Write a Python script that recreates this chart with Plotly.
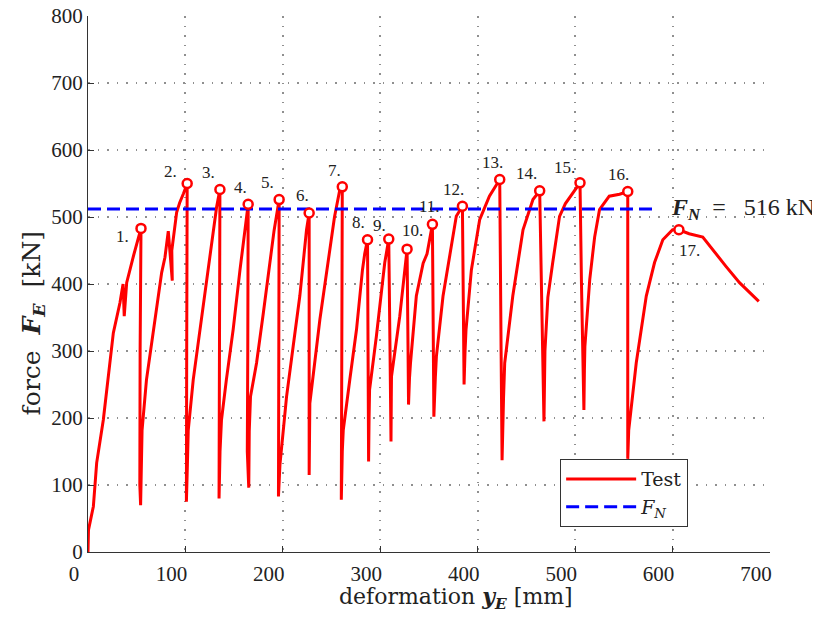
import plotly.graph_objects as go

# measured load-deformation curve (continuous test record)
test_x = [0, 0.5, 5.5, 8.9, 15.7, 22.6, 26, 32.8, 36, 37.2, 39.7, 46.5, 54.4,
          53.5, 53.2, 54, 55, 55.5, 60, 67, 75.6, 79, 82.4, 86.5, 86, 91, 94, 98, 101.8,
          101.3, 101, 102, 102.9, 108, 115, 121.7, 128.5, 132, 135.4,
          135, 134.5, 135.5, 137, 142, 149, 156, 160, 164.4,
          164, 163.5, 165, 165.5, 166.8, 173, 180, 186.7, 191, 196.2,
          196, 195.5, 197, 198.6, 203.8, 210.6, 217.4, 224.3, 227,
          227, 227, 227.7, 238, 248, 253, 258.5, 261,
          260.5, 260, 261, 262, 268.7, 275.6, 281.7, 284, 286.9,
          287.5, 288, 288.5, 289, 296, 304.6, 308.7,
          310, 311, 311.3, 311.5, 320, 325, 327.5,
          328.5, 329, 330, 331, 337, 344, 348, 353.5,
          354.5, 355, 356.5, 357.6, 364.4, 371, 378, 384.3,
          385.5, 386, 387, 388, 393.5, 402, 412, 418, 422.6,
          424, 425, 426.5, 427.7, 436, 446.5, 456.7, 463.6,
          466, 468, 469, 472, 477, 484, 490, 497.8, 505,
          506.5, 509, 509.5, 510, 515, 520, 525, 535, 545.6, 554,
          554, 554, 555, 562.7, 573, 581.5, 590, 600, 606.5,
          617, 631, 641, 655, 668.7, 688.5]
test_y = [0, 33, 68, 133, 197, 282, 327, 372, 400, 352, 402, 441, 483,
          300, 100, 70, 150, 182, 257, 332, 417, 440, 479, 405, 450, 507, 521, 535, 550,
          300, 75, 130, 182, 257, 332, 406, 481, 515, 541,
          300, 80, 150, 197, 257, 332, 421, 470, 519,
          300, 150, 96, 180, 232, 282, 357, 432, 480, 526,
          300, 83, 130, 157, 232, 307, 382, 481, 506,
          300, 115, 222, 347, 447, 500, 541, 545,
          300, 78, 150, 182, 257, 332, 421, 445, 466,
          300, 135, 200, 242, 322, 432, 467,
          300, 165, 230, 262, 352, 421, 452,
          300, 220, 260, 282, 382, 431, 445, 489,
          300, 202, 260, 292, 382, 441, 501, 516,
          350, 250, 300, 332, 421, 496, 531, 545, 556,
          300, 137, 230, 282, 382, 481, 526, 539,
          350, 195, 300, 380, 432, 501, 520, 536, 551,
          400, 212, 270, 307, 407, 470, 511, 531, 534, 538,
          300, 139, 182, 282, 382, 432, 466, 481, 481,
          475, 470, 451, 426, 402, 374]

# peak loads of the 17 load cycles
peak_x = [54.4, 101.8, 135.4, 164.4, 196.2, 227, 261, 286.9, 308.7, 327.5,
          353.5, 384.3, 422.6, 463.6, 505, 554, 606.5]
peak_y = [483, 550, 541, 519, 526, 506, 545, 466, 467, 452,
          489, 516, 556, 539, 551, 538, 481]
peak_labels = [f"{i}." for i in range(1, 18)]

fn_x = [0, 585]
fn_y = [512, 512]
fn_text = "516 kN"

# label offsets in px (right, up)
label_shift = [(-19, -8), (-17, 12), (-11, 17), (-8, 17), (-12, 17), (-7, 17),
               (-8, 16), (-9, 17), (-9, 14), (5, 19), (-3, 18), (-9, 17),
               (-7, 17), (-13, 17), (-16, 15), (-9, 17), (11, -21)]

serif = "Liberation Serif"
wide_serif = "DejaVu Serif"
ink = "#222222"

fig = go.Figure()
fig.add_trace(go.Scatter(x=test_x, y=test_y, mode="lines", name="Test",
                         line=dict(color="rgb(255,0,0)", width=3)))
fig.add_trace(go.Scatter(x=fn_x, y=fn_y, mode="lines", name="<i>F</i><sub><i>N</i></sub>",
                         line=dict(color="rgb(0,0,255)", width=3, dash="13px,6px")))
fig.add_trace(go.Scatter(x=peak_x, y=peak_y, mode="markers", showlegend=False,
                         marker=dict(symbol="circle", size=9, color="white",
                                     line=dict(color="rgb(255,0,0)", width=2.5))))

for x, y, t, (dx, dy) in zip(peak_x, peak_y, peak_labels, label_shift):
    fig.add_annotation(x=x, y=y, text=t, showarrow=False, xshift=dx, yshift=dy,
                       font=dict(family=serif, size=17, color=ink))

fig.add_annotation(x=596, y=fn_y[0], xanchor="left", yanchor="middle", showarrow=False,
                   text="<b><i>F</i></b><sub><b><i>N</i></b></sub> &nbsp;= &nbsp;&nbsp;" + fn_text,
                   font=dict(family=serif, size=24, color=ink))

# axis titles
fig.add_annotation(xref="paper", yref="paper", x=0.54, y=-0.086, showarrow=False,
                   yanchor="middle",
                   text="deformation <b><i>y</i></b><sub><b><i>E</i></b></sub> [mm]",
                   font=dict(family=wide_serif, size=22, color=ink))
fig.add_annotation(xref="paper", yref="paper", x=-0.081, y=0.426, showarrow=False,
                   textangle=-90, xanchor="center",
                   text="force &nbsp;<b><i>F</i></b><sub><b><i>E</i></b></sub> &nbsp;[kN]",
                   font=dict(family=wide_serif, size=25, color=ink))

axis_common = dict(showgrid=True, gridcolor="#8f8f8f", griddash="1.5px,8px", gridwidth=1.5,
                   showline=True, linecolor="#333333", linewidth=1.2,
                   ticks="inside", ticklen=6, tickcolor="#333333", zeroline=False,
                   automargin=False, ticklabeloverflow="allow",
                   tickfont=dict(family=serif, size=21, color=ink))
fig.update_xaxes(range=[0, 700], dtick=100, ticklabelshift=-14, ticklabelstandoff=3,
                 **axis_common)
fig.update_yaxes(range=[0, 800], dtick=100, **axis_common)

# page body adds 8 px, so the figure is trimmed by that much
fig.update_layout(
    width=812, height=609,
    margin=dict(l=80, r=50, t=8, b=65),
    plot_bgcolor="white", paper_bgcolor="white",
    legend=dict(x=0.692, y=0.1735, xanchor="left", yanchor="top",
                bgcolor="white", bordercolor="#333333", borderwidth=1.2,
                font=dict(family=wide_serif, size=19, color=ink), itemwidth=70,
                entrywidth=92, tracegroupgap=0),
)

fig.write_html("out.html")
